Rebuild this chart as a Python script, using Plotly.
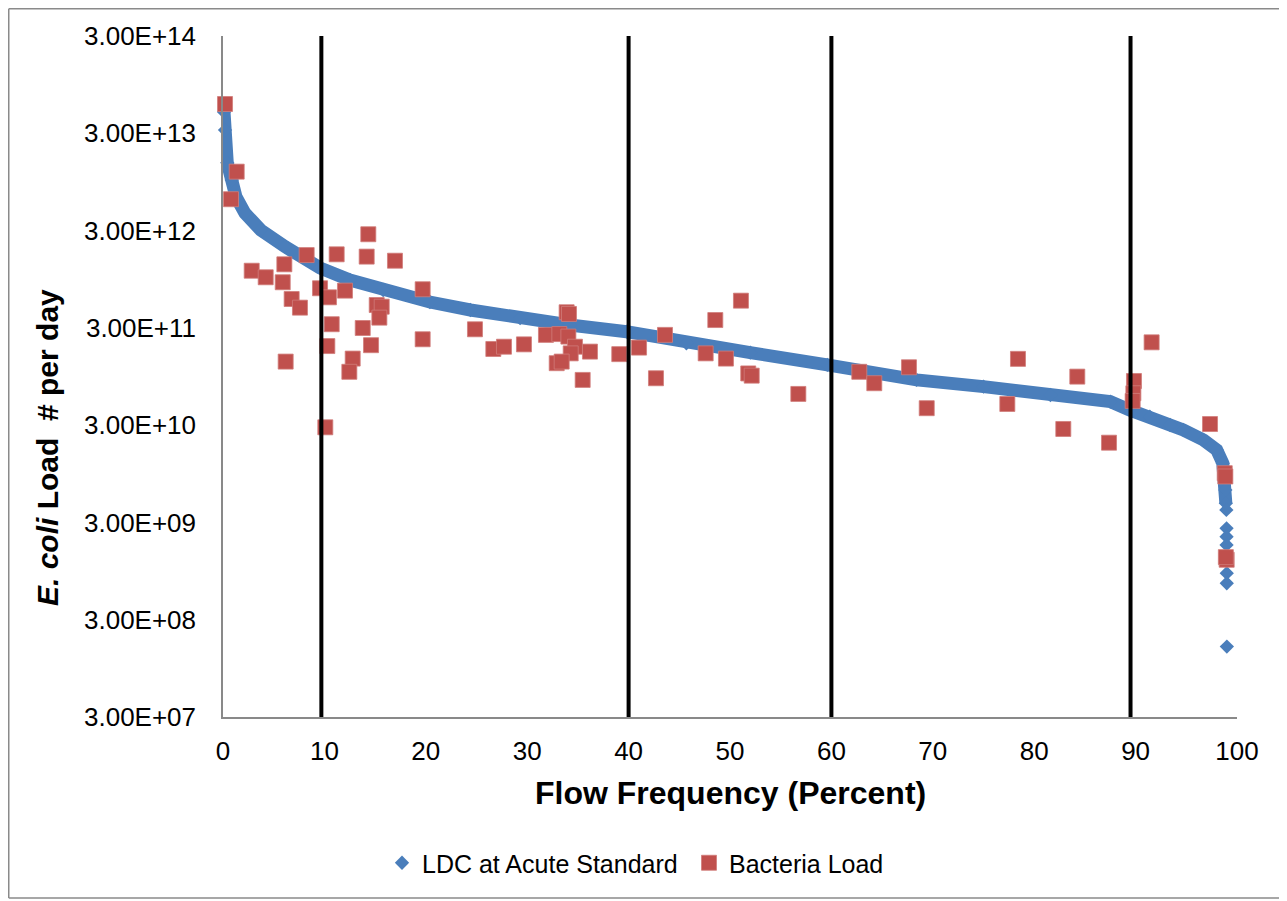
import plotly.graph_objects as go

# ---- data ----
ldc_x = [0.1, 0.2, 0.42, 0.86, 1.28, 2.17, 3.72, 6.11, 8.25, 9.57, 12.52, 15.8, 20.4, 24.4,
         29.3, 34.2, 39.8, 45.7, 52.0, 59.6, 68.4, 75.0, 81.6, 87.5, 89.4, 91.4, 93.4, 94.7,
         96.7, 98.0, 98.6, 98.8, 98.85, 98.9]
ldc_y = [4.97e13, 3.24e13, 1.49e13, 9.93e12, 6.68e12, 4.52e12, 3.04e12, 2.05e12, 1.50e12,
         1.24e12, 9.31e11, 7.35e11, 5.53e11, 4.58e11, 3.77e11, 3.21e11, 2.74e11, 2.08e11,
         1.67e11, 1.25e11, 8.75e10, 7.46e10, 6.12e10, 5.24e10, 4.30e10, 3.66e10, 3.01e10,
         2.68e10, 2.11e10, 1.67e10, 1.22e10, 8.87e9, 6.47e9, 4.72e9]
ldc_tail_x = [98.95, 98.97, 98.97, 98.97, 98.98, 98.99, 98.99, 99.0]
ldc_tail_y = [4.03e9, 2.61e9, 2.14e9, 1.76e9, 1.24e9, 9.02e8, 7.11e8, 1.59e8]

bact_x = [0.2, 1.35, 0.79, 14.33, 8.25, 11.21, 14.17, 16.96, 6.05, 2.83, 4.21, 5.89, 9.57,
          12.03, 6.77, 10.45, 7.59, 15.16, 15.65, 15.42, 19.69, 10.72, 13.78, 19.69, 10.29,
          14.6, 12.79, 12.46, 6.18, 10.09, 24.85, 26.66, 27.71, 29.68, 31.85, 33.17, 34.06,
          33.89, 34.12, 34.71, 34.29, 36.19, 32.91, 33.4, 35.47, 39.08, 41.03, 43.59, 42.7,
          47.6, 49.6, 48.55, 51.08, 51.8, 52.14, 56.74, 62.75, 64.23, 67.65, 69.4, 78.4,
          77.35, 84.25, 82.87, 87.38, 89.84, 89.78, 89.71, 91.58, 97.34, 98.79, 98.85,
          98.98, 98.9]
bact_y = [6.00e13, 1.21e13, 6.30e12, 2.75e12, 1.68e12, 1.71e12, 1.62e12, 1.47e12, 1.35e12,
          1.16e12, 9.93e11, 8.83e11, 7.66e11, 7.24e11, 5.94e11, 6.18e11, 4.84e11, 5.15e11,
          4.95e11, 3.82e11, 7.48e11, 3.27e11, 2.99e11, 2.29e11, 1.95e11, 1.99e11, 1.45e11,
          1.06e11, 1.35e11, 2.85e10, 2.90e11, 1.82e11, 1.92e11, 2.03e11, 2.54e11, 2.59e11,
          2.44e11, 4.34e11, 4.17e11, 1.92e11, 1.64e11, 1.71e11, 1.30e11, 1.35e11, 8.75e10,
          1.61e11, 1.88e11, 2.54e11, 9.10e10, 1.64e11, 1.45e11, 3.61e11, 5.71e11, 1.02e11,
          9.68e10, 6.28e10, 1.06e11, 8.09e10, 1.18e11, 4.48e10, 1.44e11, 4.95e10, 9.46e10,
          2.74e10, 1.98e10, 8.53e10, 6.38e10, 5.32e10, 2.13e11, 3.08e10, 9.62e9, 8.9e9,
          1.24e9, 1.32e9]

flow_lines = [9.7, 40, 60, 89.5]
x_ticks = [0, 10, 20, 30, 40, 50, 60, 70, 80, 90, 100]
y_ticks = [3e7, 3e8, 3e9, 3e10, 3e11, 3e12, 3e13, 3e14]
y_ticklabels = ["3.00E+07", "3.00E+08", "3.00E+09", "3.00E+10", "3.00E+11",
                "3.00E+12", "3.00E+13", "3.00E+14"]

BLUE = "#4A7EBB"
RED = "#C0504D"
FONT = "Liberation Sans, Arial, sans-serif"

# page coordinates of the plot area (page has an 8px body margin)
PX0, PX1, PY0, PY1 = 223, 1237, 36, 717
PW, PH = PX1 - PX0, PY1 - PY0


def px(x):
    return (x - PX0) / PW


def py(y):
    return (PY1 - y) / PH


fig = go.Figure()
fig.add_trace(go.Scatter(x=ldc_x, y=ldc_y, mode="lines", line=dict(color=BLUE, width=13),
                         showlegend=False, hoverinfo="skip", cliponaxis=False))
fig.add_trace(go.Scatter(x=ldc_x + ldc_tail_x, y=ldc_y + ldc_tail_y, mode="markers",
                         name="LDC at Acute Standard",
                         marker=dict(symbol="diamond", size=11, color=BLUE, line=dict(width=0)),
                         cliponaxis=False))
fig.add_trace(go.Scatter(x=bact_x, y=bact_y, mode="markers", name="Bacteria Load",
                         marker=dict(symbol="square", size=15, color=RED,
                                     line=dict(width=0.8, color="#D07C7A")),
                         cliponaxis=False))

shapes = []
for xv in flow_lines:
    shapes.append(dict(type="line", xref="x", yref="paper", x0=xv, x1=xv, y0=0, y1=1,
                       line=dict(color="black", width=4), layer="above"))
# chart-area frame: left, top and bottom edges
BL, BT, BB, BR = px(8.75), py(8.75), py(898), px(1300)
for (x0, y0, x1, y1) in [(BL, BB, BL, BT), (BL, BT, BR, BT), (BL, BB, BR, BB)]:
    shapes.append(dict(type="line", xref="paper", yref="paper", x0=x0, y0=y0, x1=x1, y1=y1,
                       line=dict(color="#8a8a8a", width=1.5), layer="below"))

fig.update_layout(
    width=1279, height=893,
    margin=dict(l=PX0 - 8, r=1279 - (PX1 - 8), t=PY0 - 8, b=893 - (PY1 - 8), autoexpand=False),
    paper_bgcolor="white", plot_bgcolor="white",
    font=dict(family=FONT, size=25, color="black"),
    shapes=shapes,
    showlegend=True,
    legend=dict(orientation="h", x=px(382), xanchor="left",
                y=py(863), yanchor="middle",
                font=dict(family=FONT, size=25, color="black"),
                bgcolor="rgba(0,0,0,0)", itemsizing="trace", tracegroupgap=0,
                entrywidth=262, entrywidthmode="pixels"),
    annotations=[
        dict(text="<b>Flow Frequency (Percent)</b>", xref="paper", yref="paper",
             x=px(730), y=py(793), xanchor="center", yanchor="middle",
             showarrow=False, font=dict(family=FONT, size=32, color="black")),
        dict(text="<b><i>E. coli</i> Load\u00a0\u00a0# per day</b>", xref="paper", yref="paper",
             x=px(47), y=py(448), xanchor="center", yanchor="middle",
             textangle=-90, showarrow=False, font=dict(family=FONT, size=30, color="black")),
    ],
)
fig.update_xaxes(range=[0, 100], tickvals=x_ticks, showgrid=False, zeroline=False,
                 showline=True, linecolor="#898989", linewidth=1.5, ticks="",
                 ticklabelstandoff=10, tickfont=dict(family=FONT, size=26, color="black"))
fig.update_yaxes(type="log", range=[7.47712, 14.47712], tickvals=y_ticks,
                 ticktext=y_ticklabels, showgrid=False, zeroline=False,
                 showline=True, linecolor="#898989", linewidth=1.5, ticks="",
                 ticklabelstandoff=20, tickfont=dict(family=FONT, size=26, color="black"))

fig.write_html("out.html")
